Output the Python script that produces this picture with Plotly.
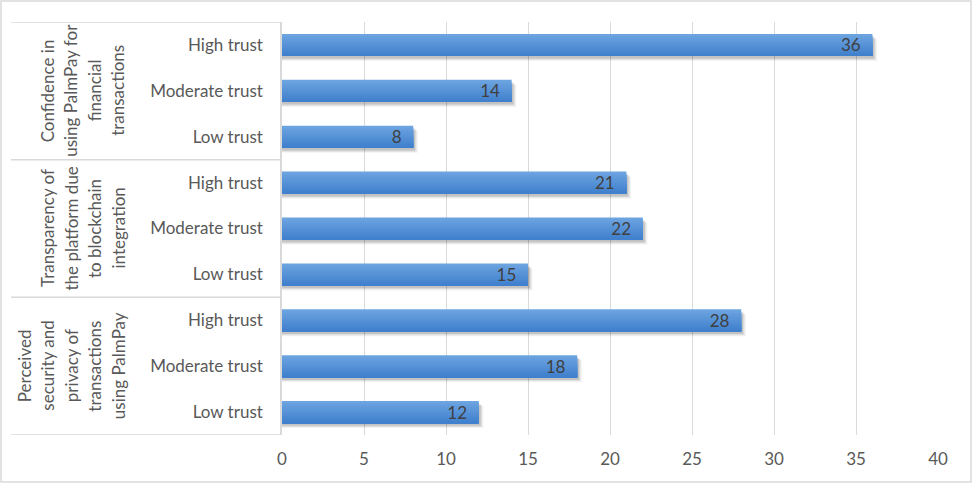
import plotly.graph_objects as go

# ---- data ----
group_lines = [
    ["Confidence in", "using PalmPay for", "financial", "transactions"],
    ["Transparency of", "the platform due", "to blockchain", "integration"],
    ["Perceived", "security and", "privacy of", "transactions", "using PalmPay"],
]
levels = ["High trust", "Moderate trust", "Low trust"]
values = [
    [36, 14, 8],
    [21, 22, 15],
    [28, 18, 12],
]
x_ticks = [0, 5, 10, 15, 20, 25, 30, 35, 40]

# ---- layout geometry ----
W, H = 972, 484
ML, MR, MT, MB = 282, 34, 22, 49
PW, PH = W - ML - MR, H - MT - MB

def px_x(p):
    return (p - ML) / PW

def px_y(p):
    return (H - MB - p) / PH

FONT = "Lato"
FS = 17
TXT = "#595959"
GRID = "#D9D9D9"

n_rows = len(group_lines) * len(levels)
ys, xs, labels = [], [], []
for g, vals in enumerate(values):
    for l, v in enumerate(vals):
        ys.append(n_rows - 1 - (g * len(levels) + l))
        xs.append(v)
        labels.append(levels[l])

fig = go.Figure()

BW = 0.48
# soft shadow layers
for dx, dy, a in [(0.28, 0.11, 0.05), (0.2, 0.085, 0.08), (0.12, 0.06, 0.12)]:
    fig.add_trace(go.Bar(y=ys, x=[v + dx for v in xs], orientation="h", width=BW,
                         offset=-BW / 2 - dy, marker=dict(color="rgba(0,0,0,%g)" % a, line_width=0),
                         hoverinfo="skip", showlegend=False))

# gradient layers (top light -> bottom dark), stacked from the bottom edge
top = (108, 164, 224)
bot = (64, 128, 205)
n = 12
w = BW / n
for i in range(n):
    t = i / (n - 1)
    c = tuple(round(top[k] + (bot[k] - top[k]) * t) for k in range(3))
    fig.add_trace(go.Bar(y=ys, x=xs, orientation="h", width=BW - i * w,
                         offset=-BW / 2,
                         marker=dict(color="rgb(%d,%d,%d)" % c, line_width=0),
                         hoverinfo="skip", showlegend=False))

# labels
fig.add_trace(go.Bar(y=ys, x=xs, orientation="h", width=BW, offset=-BW / 2,
                     marker=dict(color="rgba(0,0,0,0)", line_width=0),
                     texttemplate="%{x}\u00a0\u00a0", textposition="inside", textangle=0,
                     insidetextanchor="end", constraintext="none",
                     textfont=dict(family=FONT, size=FS, color="#404040"),
                     hoverinfo="skip", showlegend=False))

shapes = []
# group separators
for b in range(len(group_lines) + 1):
    yb = n_rows - 0.5 - b * len(levels)
    shapes.append(dict(type="line", xref="paper", yref="y", x0=px_x(11), x1=0,
                       y0=yb, y1=yb, line=dict(color=GRID, width=1.5)))
# outer border
shapes.append(dict(type="rect", xref="paper", yref="paper",
                   x0=px_x(1), x1=px_x(971), y0=px_y(482), y1=px_y(1),
                   line=dict(color=GRID, width=1.5)))

annotations = []
for g, lines in enumerate(group_lines):
    yc = n_rows - 1 - (g * len(levels) + 1)
    nl = len(lines)
    for k, line in enumerate(lines):
        xc = 118 - 23.5 * (nl - 1 - k)
        annotations.append(dict(text=line, xref="paper", yref="y", x=px_x(xc), y=yc,
                                xanchor="center", yanchor="middle", textangle=-90,
                                showarrow=False, font=dict(family=FONT, size=FS, color=TXT)))

fig.update_layout(
    width=W, height=H, margin=dict(l=ML, r=MR, t=MT, b=MB, pad=0),
    paper_bgcolor="white", plot_bgcolor="white",
    barmode="overlay", showlegend=False,
    font=dict(family=FONT, size=FS, color=TXT),
    shapes=shapes, annotations=annotations,
    xaxis=dict(range=[0, 40], tickmode="array", tickvals=x_ticks,
               showgrid=True, gridcolor=GRID, gridwidth=1, zeroline=False,
               showline=False, ticks="", tickfont=dict(family=FONT, size=FS, color=TXT),
               ticklabelstandoff=12, fixedrange=True),
    yaxis=dict(range=[-0.5, n_rows - 0.5], tickmode="array", tickvals=ys, ticktext=labels,
               showgrid=False, zeroline=False, showline=True, linecolor=GRID, linewidth=1.5,
               ticks="", ticklabelstandoff=14, tickfont=dict(family=FONT, size=FS, color=TXT),
               fixedrange=True),
)

fig.write_html("out.html")
